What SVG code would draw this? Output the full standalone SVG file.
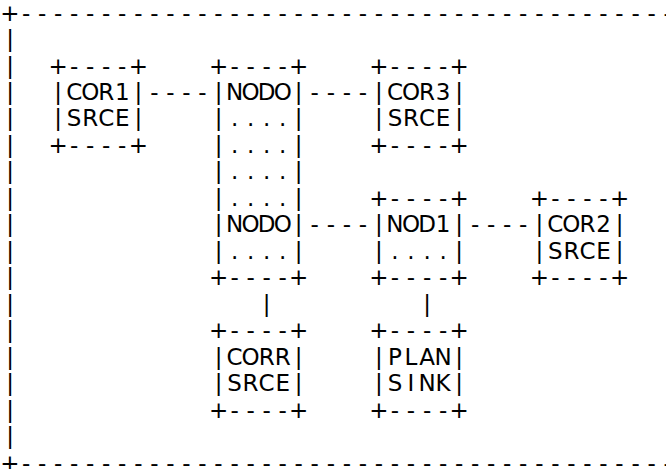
<svg xmlns="http://www.w3.org/2000/svg" width="666" height="469" viewBox="0 0 666 469">
<style>
text{font-family:"DejaVu Sans",Verdana,sans-serif;font-size:23px;fill:#000;text-anchor:middle}
</style>
<rect width="666" height="469" fill="#fff"/>
<g id="frame">
<text x="10 26.04 42.08 58.12 74.16 90.2 106.24 122.28 138.32 154.36 170.4 186.44 202.48 218.52 234.56 250.6 266.64 282.68 298.72 314.76 330.8 346.84 362.88 378.92 394.96 411 427.04 443.08 459.12 475.16 491.2 507.24 523.28 539.32 555.36 571.4 587.44 603.48 619.52 635.56 651.6 667.64" y="20.6">+-----------------------------------------</text>
<text x="10" y="47.07">|</text>
<text x="10" y="73.54">|</text>
<text x="10" y="100.01">|</text>
<text x="10" y="126.48">|</text>
<text x="10" y="152.95">|</text>
<text x="10" y="179.42">|</text>
<text x="10" y="205.89">|</text>
<text x="10" y="232.36">|</text>
<text x="10" y="258.83">|</text>
<text x="10" y="285.3">|</text>
<text x="10" y="311.77">|</text>
<text x="10" y="338.24">|</text>
<text x="10" y="364.71">|</text>
<text x="10" y="391.18">|</text>
<text x="10" y="417.65">|</text>
<text x="10" y="444.12">|</text>
<text x="10 26.04 42.08 58.12 74.16 90.2 106.24 122.28 138.32 154.36 170.4 186.44 202.48 218.52 234.56 250.6 266.64 282.68 298.72 314.76 330.8 346.84 362.88 378.92 394.96 411 427.04 443.08 459.12 475.16 491.2 507.24 523.28 539.32 555.36 571.4 587.44 603.48 619.52 635.56 651.6 667.64" y="470.59">+-----------------------------------------</text>
</g>
<g id="cor1">
<text x="58.12 74.16 90.2 106.24 122.28 138.32" y="73.54">+----+</text>
<text x="58.12 74.16 90.2 106.24 122.28 138.32" y="100.01">|COR1|</text>
<text x="58.12 74.16 90.2 106.24 122.28 138.32" y="126.48">|SRCE|</text>
<text x="58.12 74.16 90.2 106.24 122.28 138.32" y="152.95">+----+</text>
</g>
<g id="nodo">
<text x="218.52 234.56 250.6 266.64 282.68 298.72" y="73.54">+----+</text>
<text x="218.52 234.56 250.6 266.64 282.68 298.72" y="100.01">|NODO|</text>
<text x="218.52 234.56 250.6 266.64 282.68 298.72" y="126.48">|....|</text>
<text x="218.52 234.56 250.6 266.64 282.68 298.72" y="152.95">|....|</text>
<text x="218.52 234.56 250.6 266.64 282.68 298.72" y="179.42">|....|</text>
<text x="218.52 234.56 250.6 266.64 282.68 298.72" y="205.89">|....|</text>
<text x="218.52 234.56 250.6 266.64 282.68 298.72" y="232.36">|NODO|</text>
<text x="218.52 234.56 250.6 266.64 282.68 298.72" y="258.83">|....|</text>
<text x="218.52 234.56 250.6 266.64 282.68 298.72" y="285.3">+----+</text>
</g>
<g id="cor3">
<text x="378.92 394.96 411 427.04 443.08 459.12" y="73.54">+----+</text>
<text x="378.92 394.96 411 427.04 443.08 459.12" y="100.01">|COR3|</text>
<text x="378.92 394.96 411 427.04 443.08 459.12" y="126.48">|SRCE|</text>
<text x="378.92 394.96 411 427.04 443.08 459.12" y="152.95">+----+</text>
</g>
<g id="nod1">
<text x="378.92 394.96 411 427.04 443.08 459.12" y="205.89">+----+</text>
<text x="378.92 394.96 411 427.04 443.08 459.12" y="232.36">|NOD1|</text>
<text x="378.92 394.96 411 427.04 443.08 459.12" y="258.83">|....|</text>
<text x="378.92 394.96 411 427.04 443.08 459.12" y="285.3">+----+</text>
</g>
<g id="cor2">
<text x="539.32 555.36 571.4 587.44 603.48 619.52" y="205.89">+----+</text>
<text x="539.32 555.36 571.4 587.44 603.48 619.52" y="232.36">|COR2|</text>
<text x="539.32 555.36 571.4 587.44 603.48 619.52" y="258.83">|SRCE|</text>
<text x="539.32 555.36 571.4 587.44 603.48 619.52" y="285.3">+----+</text>
</g>
<g id="corr">
<text x="218.52 234.56 250.6 266.64 282.68 298.72" y="338.24">+----+</text>
<text x="218.52 234.56 250.6 266.64 282.68 298.72" y="364.71">|CORR|</text>
<text x="218.52 234.56 250.6 266.64 282.68 298.72" y="391.18">|SRCE|</text>
<text x="218.52 234.56 250.6 266.64 282.68 298.72" y="417.65">+----+</text>
</g>
<g id="plan">
<text x="378.92 394.96 411 427.04 443.08 459.12" y="338.24">+----+</text>
<text x="378.92 394.96 411 427.04 443.08 459.12" y="364.71">|PLAN|</text>
<text x="378.92 394.96 411 427.04 443.08 459.12" y="391.18">|SINK|</text>
<text x="378.92 394.96 411 427.04 443.08 459.12" y="417.65">+----+</text>
</g>
<g id="connectors">
<text x="154.36 170.4 186.44 202.48" y="100.01">----</text>
<text x="314.76 330.8 346.84 362.88" y="100.01">----</text>
<text x="314.76 330.8 346.84 362.88" y="232.36">----</text>
<text x="475.16 491.2 507.24 523.28" y="232.36">----</text>
<text x="266.64" y="311.77">|</text>
<text x="427.04" y="311.77">|</text>
</g>
</svg>
